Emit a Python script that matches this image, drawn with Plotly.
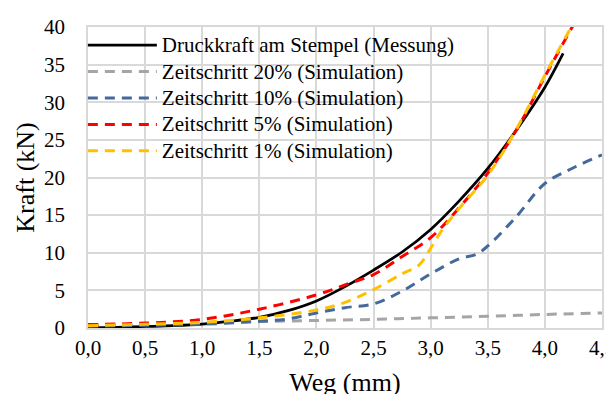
import plotly.graph_objects as go

# Messung (Druckkraft am Stempel)
x_mess = [0, 0.25, 0.5, 0.75, 1.0, 1.25, 1.5, 1.75, 2.0, 2.25, 2.5, 2.75, 3.0, 3.25, 3.5, 3.75, 4.0, 4.16]
y_mess = [0, 0.1, 0.2, 0.3, 0.5, 0.9, 1.4, 2.3, 3.6, 5.5, 7.7, 10.1, 13.1, 16.9, 21.2, 26.3, 32.0, 36.5]

# Zeitschritt 20%
x_20 = [0, 0.5, 1.0, 1.5, 2.0, 2.5, 3.0, 3.5, 4.0, 4.5]
y_20 = [0.4, 0.5, 0.6, 0.85, 1.0, 1.15, 1.35, 1.55, 1.8, 2.0]

# Zeitschritt 10%
x_10 = [0, 0.5, 1.0, 1.5, 1.75, 2.0, 2.25, 2.5, 2.75, 3.0, 3.25, 3.4, 3.5, 3.75, 4.0, 4.25, 4.5]
y_10 = [0.25, 0.35, 0.5, 0.9, 1.2, 2.0, 2.7, 3.2, 4.9, 7.2, 9.2, 9.8, 10.9, 14.8, 19.2, 21.3, 23.0]

# Zeitschritt 5%
x_5 = [0, 0.5, 1.0, 1.5, 2.0, 2.3, 2.5, 2.75, 3.0, 3.25, 3.5, 3.75, 4.0, 4.25]
y_5 = [0.45, 0.65, 1.15, 2.5, 4.4, 6.0, 7.1, 9.5, 12.0, 16.0, 20.6, 26.3, 33.4, 40.3]

# Zeitschritt 1%
x_1 = [0, 0.5, 1.0, 1.5, 2.0, 2.25, 2.5, 2.75, 2.9, 3.0, 3.1, 3.25, 3.5, 3.75, 4.0, 4.25]
y_1 = [0.3, 0.5, 0.75, 1.35, 2.4, 3.4, 5.1, 7.2, 8.4, 10.6, 13.0, 15.9, 20.3, 26.4, 33.6, 40.5]

x_ticks = [0, 0.5, 1.0, 1.5, 2.0, 2.5, 3.0, 3.5, 4.0, 4.5]
y_ticks = [0, 5, 10, 15, 20, 25, 30, 35, 40]

names = [
    "Druckkraft am Stempel (Messung)",
    "Zeitschritt 20% (Simulation)",
    "Zeitschritt 10% (Simulation)",
    "Zeitschritt 5% (Simulation)",
    "Zeitschritt 1% (Simulation)",
]

SERIF = "Liberation Serif, Times New Roman, serif"
DASH = "10px,7px"


def lbl(s):
    return '<span style="font-size:21px">' + s + '</span>'


fig = go.Figure()
fig.add_trace(go.Scatter(x=x_mess, y=y_mess, mode="lines", name=lbl(names[0]),
                         line=dict(color="#000000", width=2.75, shape="spline", smoothing=0.8)))
fig.add_trace(go.Scatter(x=x_20, y=y_20, mode="lines", name=lbl(names[1]),
                         line=dict(color="#a5a5a5", width=3, dash=DASH, shape="spline")))
fig.add_trace(go.Scatter(x=x_10, y=y_10, mode="lines", name=lbl(names[2]),
                         line=dict(color="#44699c", width=3, dash=DASH, shape="spline")))
fig.add_trace(go.Scatter(x=x_5, y=y_5, mode="lines", name=lbl(names[3]),
                         line=dict(color="#ff0000", width=3, dash=DASH, shape="spline")))
fig.add_trace(go.Scatter(x=x_1, y=y_1, mode="lines", name=lbl(names[4]),
                         line=dict(color="#ffc000", width=3, dash=DASH, shape="spline")))

fig.update_layout(
    width=614, height=394,
    margin=dict(l=80, r=20, t=19, b=74),
    paper_bgcolor="white", plot_bgcolor="white",
    separators=",.",
    font=dict(family=SERIF, size=21, color="#000000"),
    showlegend=True,
    legend=dict(x=-0.01, y=1.0, xanchor="left", yanchor="top", bgcolor="rgba(0,0,0,0)",
                font=dict(family=SERIF, size=18), tracegroupgap=0, itemwidth=69),
)
fig.update_xaxes(range=[0, 4.5], tickvals=x_ticks, tickformat=".1f", automargin=False,
                 showgrid=True, gridcolor="#d9d9d9", gridwidth=1.5,
                 showline=True, linecolor="#d9d9d9", linewidth=1.5, mirror=True,
                 zeroline=False, ticks="", tickfont=dict(family=SERIF, size=21),
                 title=dict(text="Weg (mm)", font=dict(family=SERIF, size=26), standoff=14))
fig.update_yaxes(range=[0, 40], tickvals=y_ticks, automargin=False,
                 showgrid=True, gridcolor="#d9d9d9", gridwidth=1.5,
                 showline=True, linecolor="#d9d9d9", linewidth=1.5, mirror=True,
                 zeroline=False, ticks="outside", ticklen=17, tickcolor="rgba(0,0,0,0)",
                 tickfont=dict(family=SERIF, size=21),
                 title=dict(text="Kraft (kN)", font=dict(family=SERIF, size=26), standoff=2))

fig.write_html("out.html")
